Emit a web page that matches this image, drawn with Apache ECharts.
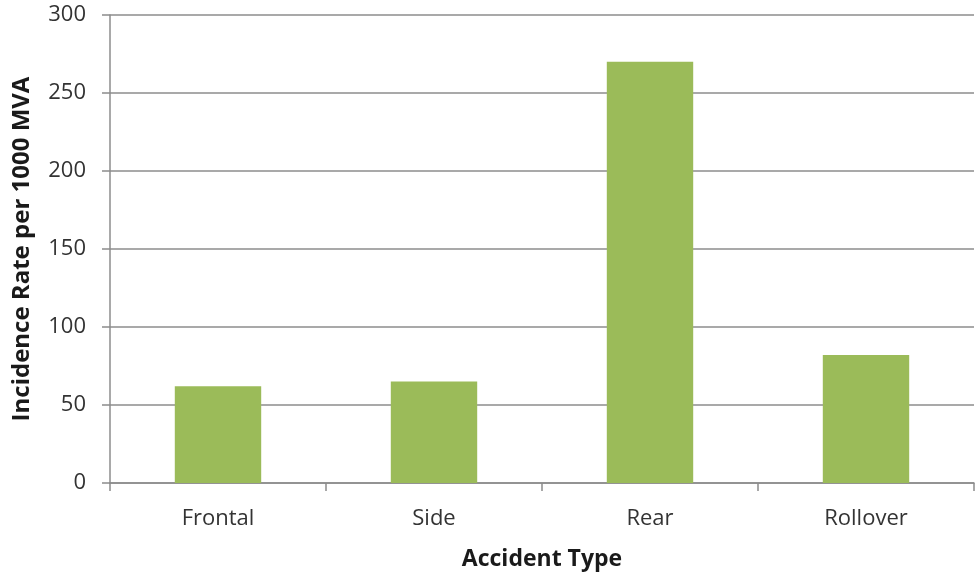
<!DOCTYPE html>
<html>
<head>
<meta charset="utf-8">
<style>
  html, body { margin: 0; padding: 0; background: #fff; }
  #chart { width: 975px; height: 576px; }
</style>
<script src="https://cdn.jsdelivr.net/npm/echarts@6/dist/echarts.min.js"></script>
</head>
<body>
<div id="chart"></div>
<script>
// Incidence rate by accident type
const categories = ['Frontal', 'Side', 'Rear', 'Rollover'];
const incidenceRates = [62, 65, 270, 82];
const yTicks = { min: 0, max: 300, interval: 50 };

const chart = echarts.init(document.getElementById('chart'), null, { renderer: 'canvas' });
const textColor = '#333333';
const lineColor = '#8c8c8c';
const fontFamily = '"Open Sans", "Noto Sans", sans-serif';

chart.setOption({
  animation: false,
  grid: { left: 110, right: 1, top: 15, bottom: 93, containLabel: false, outerBoundsMode: 'none' },
  xAxis: {
    type: 'category',
    data: categories,
    name: 'Accident Type',
    nameLocation: 'middle',
    nameGap: 65,
    nameTextStyle: { fontFamily, fontSize: 23, fontWeight: 'bold', color: '#1a1a1a' },
    axisLine: { lineStyle: { color: lineColor, width: 1.5 } },
    axisTick: { show: true, length: 8, alignWithLabel: false, lineStyle: { color: lineColor, width: 1.5 } },
    axisLabel: { fontFamily, fontSize: 22, color: textColor, margin: 25 }
  },
  yAxis: {
    type: 'value',
    min: yTicks.min,
    max: yTicks.max,
    interval: yTicks.interval,
    name: 'Incidence Rate per 1000 MVA',
    nameLocation: 'middle',
    nameGap: 76,
    nameTextStyle: { fontFamily, fontSize: 24, fontWeight: 'bold', color: '#1a1a1a' },
    axisLine: { show: true, lineStyle: { color: lineColor, width: 1.5 } },
    axisTick: { show: true, length: 8, lineStyle: { color: lineColor, width: 1.5 } },
    axisLabel: { fontFamily, fontSize: 22, color: textColor, margin: 24 },
    splitLine: { show: true, lineStyle: { color: lineColor, width: 1.5 } }
  },
  series: [{
    type: 'bar',
    data: incidenceRates,
    barCategoryGap: '60%',
    itemStyle: { color: '#9bbb59' }
  }]
});
</script>
</body>
</html>
